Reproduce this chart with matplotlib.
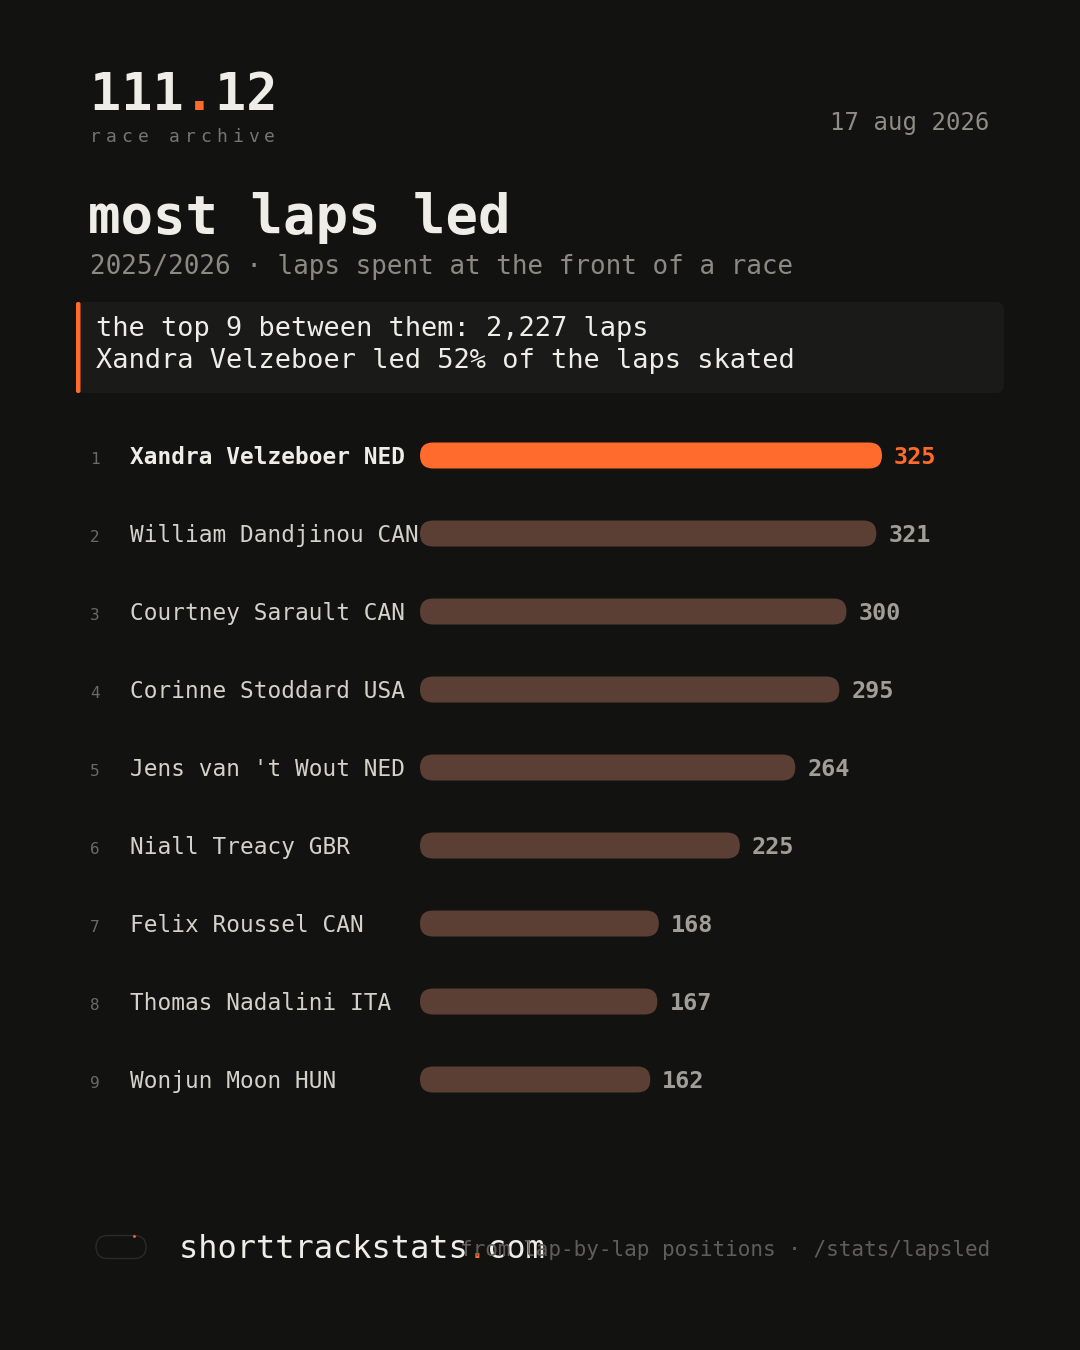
import matplotlib
matplotlib.use("Agg")
import matplotlib.pyplot as plt
from matplotlib.patches import FancyBboxPatch
import matplotlib.transforms as mtransforms

# ---------------- data ----------------
ranks = [1, 2, 3, 4, 5, 6, 7, 8, 9]
names = ["Xandra Velzeboer NED", "William Dandjinou CAN", "Courtney Sarault CAN",
         "Corinne Stoddard USA", "Jens van 't Wout NED", "Niall Treacy GBR",
         "Felix Roussel CAN", "Thomas Nadalini ITA", "Wonjun Moon HUN"]
laps = [325, 321, 300, 295, 264, 225, 168, 167, 162]

brand_main = "111 12"
brand_dot = "   .  "
brand_sub = "race archive"
date_text = "17 aug 2026"
title = "most laps led"
subtitle = "2025/2026 \u00b7 laps spent at the front of a race"
callout = ["the top 9 between them: 2,227 laps",
           "Xandra Velzeboer led 52% of the laps skated"]
site_main = "shorttrackstats com"
site_dot = "               .   "
footer_right = "from lap-by-lap positions \u00b7 /stats/lapsled"

# ---------------- style ----------------
BG = "#121211"
WHITE = "#EEEDE7"
ORANGE = "#FF6B2C"
BROWN = "#5B3F35"
VALGRAY = "#A19E97"
NAMEGRAY = "#D3D1CA"
SUBGRAY = "#8C8982"
DIMGRAY = "#77756F"
RANKGRAY = "#6B6A65"
FOOTGRAY = "#5F5E5A"
BOX = "#1A1A19"
MONO = ["DejaVu Sans Mono"]
plt.rcParams['font.family'] = MONO

W, H = 1080, 1350
fig = plt.figure(figsize=(W / 100, H / 100), dpi=100, facecolor=BG)

# background axes in pixel coordinates (y downward)
bg = fig.add_axes([0, 0, 1, 1], zorder=0)
bg.set_xlim(0, W)
bg.set_ylim(H, 0)
bg.axis("off")
bg.set_facecolor(BG)

def pt(px):
    return px * 0.72

# header
bg.text(90, 110, brand_main, color=WHITE, fontsize=pt(52), fontweight="bold", va="baseline")
bg.text(90, 110, brand_dot, color=ORANGE, fontsize=pt(52), fontweight="bold", va="baseline")
for i, ch in enumerate(brand_sub):
    bg.text(90 + i * 15.8, 142, ch, color=DIMGRAY, fontsize=pt(18), va="baseline")
bg.text(990, 130, date_text, color="#8F8C86", fontsize=pt(24), ha="right", va="baseline")

bg.text(88, 233, title, color=WHITE, fontsize=pt(54), fontweight="bold", va="baseline")
bg.text(90, 274, subtitle, color=SUBGRAY, fontsize=pt(26), va="baseline")

# callout box
bg.add_patch(FancyBboxPatch((76, 302), 928, 91, boxstyle="round,pad=0,rounding_size=8",
                            facecolor=BOX, edgecolor="none"))
bg.add_patch(FancyBboxPatch((76, 302), 4.5, 91, boxstyle="round,pad=0,rounding_size=2",
                            facecolor=ORANGE, edgecolor="none"))
bg.text(96, 336, callout[0], color=WHITE, fontsize=pt(27), va="baseline")
bg.text(96, 368, callout[1], color=WHITE, fontsize=pt(27), va="baseline")

# ---------------- bars ----------------
row0, pitch = 455.5, 78.0
top = row0 - pitch / 2
bottom = row0 + (len(laps) - 1) * pitch + pitch / 2
x0, xw = 420, 462
ax = fig.add_axes([x0 / W, 1 - bottom / H, xw / W, (bottom - top) / H], zorder=1)
ax.set_xlim(0, max(laps))
ax.set_ylim(len(laps) - 0.5, -0.5)
ax.axis("off")
ax.patch.set_alpha(0)

sx = ax.bbox.width / (ax.get_xlim()[1] - ax.get_xlim()[0])   # px per x unit
sy = ax.bbox.height / len(laps)                               # px per y unit
bar_px = 26
h = bar_px / sy
r = (bar_px / 2) / sx
asp = (1 / sy) / (1 / sx)

blend = mtransforms.blended_transform_factory(bg.transData, ax.transData)
down = mtransforms.ScaledTranslation(0, -8.5 / 100, fig.dpi_scale_trans)

for i, (rk, nm, v) in enumerate(zip(ranks, names, laps)):
    first = i == 0
    ax.add_patch(FancyBboxPatch((0, i - h / 2), v, h,
                                boxstyle=f"round,pad=0,rounding_size={r}",
                                mutation_aspect=asp,
                                facecolor=ORANGE if first else BROWN, edgecolor="none"))
    ax.annotate(str(v), xy=(v, i), xytext=(pt(12), pt(-8.5)), textcoords="offset points",
                va="baseline", ha="left", color=ORANGE if first else VALGRAY,
                fontsize=pt(23.5), fontweight="bold")
    fig.text(90, i, str(rk), transform=blend + down, color=RANKGRAY,
             fontsize=pt(16), va="baseline")
    fig.text(130, i, nm, transform=blend + down, color=WHITE if first else NAMEGRAY,
             fontsize=pt(22.8), fontweight="bold" if first else "normal", va="baseline")

# ---------------- footer ----------------
bg.add_patch(FancyBboxPatch((96, 1235.5), 50, 23, boxstyle="round,pad=0,rounding_size=11.5",
                            facecolor="none", edgecolor="#2A2A28", linewidth=1.0))
bg.plot([134], [1236], marker="o", markersize=2, color=ORANGE, markeredgewidth=0)
bg.text(179, 1258, site_main, color=WHITE, fontsize=pt(32), va="baseline")
bg.text(179, 1258, site_dot, color=ORANGE, fontsize=pt(32), va="baseline")
bg.text(990, 1256, footer_right, color=FOOTGRAY, fontsize=pt(21), ha="right", va="baseline")

fig.savefig("out.png", dpi=100, facecolor=BG)
